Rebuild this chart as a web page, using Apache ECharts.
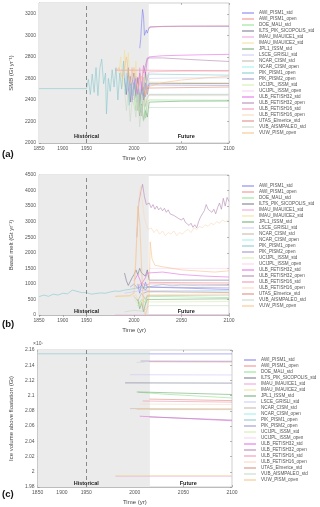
<!DOCTYPE html>
<html><head><meta charset="utf-8">
<script src="https://cdn.jsdelivr.net/npm/echarts@6/dist/echarts.min.js"></script>
<style>html,body{margin:0;padding:0;background:#fff}#c{width:320px;height:507px}</style>
</head><body><div id="c"></div>
<script>
const models = ['AWI_PISM1_std','AWI_PISM1_open','DOE_MALI_std','ILTS_PIK_SICOPOLIS_std','IMAU_IMAUICE1_std','IMAU_IMAUICE2_std','JPL1_ISSM_std','LSCE_GRISLI_std','NCAR_CISM_std','NCAR_CISM_open','PIK_PISM1_open','PIK_PISM2_open','UCIJPL_ISSM_std','UCIJPL_ISSM_open','ULB_FETISH32_std','ULB_FETISH32_open','ULB_FETISH16_std','ULB_FETISH16_open','UTAS_Elmerice_std','VUB_AISMPALEO_std','VUW_PISM_open'];
const colors = ['#7b7bef','#f08a8a','#8ee08e','#75758f','#f0a0dc','#f0e09a','#6fa86f','#c8c8f5','#c4b5a8','#a0eeea','#86c8cc','#9a8fc8','#d2eca8','#f8d0f0','#e46ae4','#b385b3','#f090b0','#f9d8bc','#d88a7a','#c6d8c6','#f7c088'];

const xTickYears = [1850,1900,1950,2000,2050,2100];
const historicalEnd = 2015.5;
const splitYear = 1950;

// Panel (a): SMB (Gt/yr), [year, value] per model
const smbPoints = [
 [[2006,2880],[2007,2960],[2008,3120],[2009,3240],[2010,3180],[2011,3000],[2012,2990],[2013,3050],[2014,3020],[2016,3075],[2030,3083],[2050,3085],[2075,3084],[2100,3083]],
 [[2015,3050],[2017,3080],[2050,3083],[2075,3086],[2100,3088]],
 [[2000,2450],[2002,2300],[2004,2520],[2006,2340],[2008,2280],[2010,2460],[2012,2230],[2014,2380],[2016,2400],[2050,2398],[2100,2397]],
 [[1990,2600],[1992,2450],[1994,2700],[1996,2380],[1998,2560],[2000,2650],[2002,2420],[2004,2610],[2006,2300],[2008,2560],[2010,2440],[2012,2660],[2014,2500],[2016,2555],[2050,2553],[2100,2552]],
 [[1996,2550],[1998,2700],[2000,2480],[2002,2620],[2004,2400],[2006,2700],[2008,2500],[2010,2610],[2012,2450],[2014,2620],[2016,2660],[2050,2670],[2100,2672]],
 [[1984,2650],[1986,2800],[1988,2520],[1990,2860],[1992,2600],[1994,2840],[1996,2480],[1998,2700],[2000,2520],[2002,2760],[2004,2450],[2006,2650],[2008,2530],[2010,2700],[2012,2480],[2014,2600],[2016,2565],[2050,2562],[2100,2560]],
 [[2004,2400],[2006,2250],[2008,2360],[2010,2210],[2012,2300],[2014,2240],[2016,2380],[2050,2388],[2100,2390]],
 [[1990,2550],[1992,2650],[1994,2420],[1996,2580],[1998,2470],[2000,2600],[2002,2380],[2004,2520],[2006,2420],[2008,2570],[2010,2350],[2012,2520],[2014,2480],[2016,2600],[2050,2604],[2100,2605]],
 [[2000,2400],[2002,2550],[2004,2300],[2006,2460],[2008,2250],[2010,2500],[2012,2340],[2014,2420],[2016,2450],[2050,2450],[2100,2450]],
 [[2016,2453],[2050,2453],[2100,2453]],
 [[1850,2505],[1950,2505],[1952,2590],[1954,2450],[1956,2640],[1958,2470],[1960,2700],[1962,2440],[1964,2690],[1966,2780],[1968,2550],[1970,2650],[1971,2270],[1973,2600],[1975,2480],[1977,2680],[1979,2520],[1981,2700],[1983,2400],[1985,2650],[1987,2500],[1989,2760],[1991,2450],[1993,2620],[1995,2350],[1997,2560],[1999,2440],[2001,2600],[2003,2380],[2005,2550],[2007,2300],[2009,2600],[2011,2420],[2013,2560],[2016,2640],[2050,2636],[2100,2630]],
 [[1994,2480],[1996,2620],[1998,2380],[2000,2560],[2002,2440],[2004,2600],[2006,2350],[2008,2500],[2010,2400],[2012,2560],[2014,2450],[2016,2540],[2050,2537],[2100,2535]],
 [[2000,2500],[2002,2350],[2004,2550],[2006,2300],[2008,2450],[2010,2340],[2012,2400],[2014,2420],[2016,2440],[2100,2440]],
 [[2016,2446],[2100,2446]],
 [[2000,2550],[2002,2600],[2004,2450],[2006,2650],[2008,2500],[2010,2720],[2012,2640],[2014,2770],[2016,2800],[2030,2810],[2050,2815],[2075,2820],[2100,2823]],
 [[2010,2650],[2012,2720],[2014,2790],[2016,2805],[2030,2790],[2050,2780],[2075,2768],[2100,2757]],
 [[1980,2676],[2015,2676],[2016,2670],[2100,2670]],
 [[2016,2664],[2100,2664]],
 [[2008,2480],[2010,2520],[2012,2430],[2014,2510],[2016,2520],[2100,2520]],
 [[1990,2500],[1992,2300],[1994,2460],[1996,2200],[1998,2400],[2000,2350],[2002,2240],[2004,2450],[2006,2150],[2008,2350],[2010,2200],[2012,2310],[2014,2280],[2016,2330],[2100,2330]],
 [[1980,2650],[1984,2700],[1988,2600],[1992,2800],[1996,2550],[2000,2700],[2004,2500],[2008,2620],[2012,2450],[2014,2520],[2016,2530],[2030,2560],[2050,2585],[2075,2605],[2100,2620]]
];

// Panel (b): basal melt (Gt/yr)
const meltPoints = [
 [[2004,1000],[2006,700],[2008,1000],[2010,850],[2012,1050],[2014,900],[2016,860],[2100,820]],
 [[2016,1050],[2050,1040],[2100,1030]],
 [[2004,300],[2008,500],[2012,400],[2014,600],[2016,560],[2100,560]],
 [[1990,1350],[1992,1100],[1994,950],[1996,1000],[1998,1200],[2000,1300],[2002,1450],[2004,1300],[2006,1500],[2008,1350],[2010,1400],[2012,1250],[2014,1450],[2016,1120],[2050,1120],[2100,1120]],
 [[1980,0],[2100,0]],
 [[1980,600],[1998,610],[2002,650],[2006,300],[2010,500],[2014,650],[2016,680],[2100,680]],
 [[2004,500],[2006,200],[2008,400],[2010,100],[2012,350],[2014,500],[2016,520],[2100,520]],
 [[1990,700],[2000,750],[2010,800],[2014,780],[2016,790],[2100,790]],
 [[2000,600],[2004,450],[2008,700],[2012,500],[2014,620],[2016,640],[2100,640]],
 [[2016,740],[2030,760],[2050,745],[2070,755],[2100,750]],
 [[1850,590],[1860,640],[1870,600],[1880,670],[1890,640],[1900,700],[1910,680],[1920,800],[1930,760],[1940,720],[1950,720],[1955,670],[1960,690],[1965,710],[1970,700],[1975,740],[1980,770],[1985,760],[1990,800],[1995,820],[2000,850],[2005,880],[2010,870],[2014,900],[2016,950],[2030,980],[2040,940],[2050,960],[2070,940],[2100,950]],
 [[1996,900],[2000,1000],[2004,850],[2008,950],[2012,800],[2014,900],[2016,880],[2100,870]],
 [[2000,500],[2006,300],[2010,450],[2014,420],[2016,430],[2100,430]],
 [[2016,1500],[2100,1500]],
 [[2000,1100],[2004,1300],[2008,1000],[2012,1200],[2014,1350],[2016,1400],[2030,1380],[2050,1300],[2075,1250],[2100,1220]],
 [[2003,2500],[2005,3600],[2007,3950],[2009,4200],[2011,3800],[2013,3550],[2016,3600],[2018,3450],[2020,3550],[2022,3400],[2024,3500],[2026,3380],[2028,3450],[2030,3350],[2032,3430],[2034,3300],[2036,3380],[2038,3250],[2040,3300],[2042,3200],[2044,3260],[2046,3120],[2048,3180],[2050,3050],[2052,3120],[2054,2980],[2056,3020],[2058,2880],[2060,2950],[2062,2820],[2064,2900],[2066,2800],[2068,3000],[2070,3150],[2072,3250],[2074,3350],[2076,3550],[2078,3400],[2080,3450],[2082,3300],[2084,3400],[2086,3250],[2088,3450],[2090,3600],[2092,3400],[2094,3750],[2096,3500],[2098,3780],[2100,3650]],
 [[2004,900],[2008,1050],[2012,950],[2016,1000],[2100,980]],
 [[2000,900],[2003,2500],[2005,3700],[2007,4150],[2009,3600],[2011,3100],[2013,2900],[2015,2750],[2018,2800],[2021,2650],[2024,2750],[2027,2600],[2030,2700],[2033,2550],[2036,2650],[2039,2600],[2042,2700],[2045,2550],[2048,2650],[2051,2600],[2054,2700],[2057,2750],[2060,2650],[2063,2800],[2066,2750],[2069,2850],[2072,2800],[2075,2900],[2078,2850],[2081,2950],[2084,2900],[2087,3000],[2090,2950],[2093,3050],[2096,3000],[2100,3050]],
 [[2010,700],[2014,750],[2016,720],[2100,720]],
 [[1990,100],[2000,150],[2010,120],[2016,300],[2100,300]],
 [[1980,600],[1995,620],[2000,700],[2002,1800],[2004,3500],[2006,3000],[2008,1500],[2010,300],[2012,0],[2014,200],[2016,600],[2017,2350],[2019,1800],[2022,1600],[2030,1550],[2040,1500],[2050,1450],[2060,1430],[2075,1400],[2085,1380],[2100,1420]]
];

// Panel (c): ice volume above floatation (x10^7 Gt)
const volPoints = [
 [[2015,2.1549],[2100,2.1549]],
 [[2015,2.1446],[2100,2.1443]],
 [[2004,2.1045],[2030,2.1020],[2100,2.0970]],
 [[1990,2.1168],[2100,2.1165]],
 [[1980,1.9942],[2100,1.9942]],
 [[1980,1.9950],[2100,1.9950]],
 [[2002,2.1048],[2015,2.1045],[2100,2.1015]],
 [[1995,2.1275],[2100,2.1272]],
 [[1995,2.0830],[2100,2.0825]],
 [[2015,2.0822],[2100,2.0822]],
 [[1850,2.1550],[2015,2.1550]],
 [[2006,2.1455],[2100,2.1452]],
 [[2015,2.0815],[2100,2.0815]],
 [[2015,2.0818],[2100,2.0818]],
 [[2005,2.0730],[2100,2.0670]],
 [[2015,2.0720],[2100,2.0680]],
 [[2008,2.0930],[2100,2.0915]],
 [[2005,2.0890],[2100,2.0885]],
 [[2015,2.0955],[2100,2.0935]],
 [[2002,2.1438],[2010,2.1440]],
 [[2002,2.0820],[2100,2.0820]]
];

const panelLetters = ['(a)','(b)','(c)'];
const yNames = ['SMB (Gt yr⁻¹)','Basal melt (Gt yr⁻¹)','Ice volume above floatation (Gt)'];
const yMin = [2000, 0, 1.98];
const yMax = [3300, 4500, 2.16];
const yTicks = [
 [2000,2200,2400,2600,2800,3000,3200],
 [0,500,1000,1500,2000,2500,3000,3500,4000,4500],
 [1.98,2,2.02,2.04,2.06,2.08,2.1,2.12,2.14,2.16]
];
const futureLabelYear = 2055;

// ---- build ----
const tx = y => y < splitYear ? splitYear - (splitYear - y) / 2 : y;
const untx = v => v < splitYear ? splitYear - (splitYear - v) * 2 : v;
const xTickPos = xTickYears.map(tx);

const grids = [
 {left: 29, top: 3, width: 200, height: 140},
 {left: 29, top: 175, width: 200, height: 140},
 {left: 33, top: 350, width: 199, height: 137}
];
const legendPos = [{left: 242, top: 10},{left: 242, top: 183},{left: 244, top: 357}];
const letterTop = [149, 319, 489];
const markDist = [4, 1, 1];

const grid = [], xAxis = [], yAxis = [], series = [], legend = [];
const panels = [smbPoints, meltPoints, volPoints];
const FONT = 'Liberation Sans';

for (let p = 0; p < 3; p++) {
  grid.push(Object.assign({show: true, borderColor: '#b0b0b0', borderWidth: 0.6, backgroundColor: 'transparent'}, grids[p]));
  xAxis.push({
    type: 'value', gridIndex: p, min: tx(1850), max: 2100,
    axisLine: {show: true, lineStyle: {color: '#a0a0a0', width: 0.6}},
    axisTick: {show: true, inside: true, length: 2, customValues: xTickPos, lineStyle: {color: '#888', width: 0.6}},
    axisLabel: {show: true, customValues: xTickPos, formatter: v => String(Math.round(untx(v))), fontSize: 5, color: '#555', margin: 3, fontFamily: FONT},
    splitLine: {show: false},
    name: 'Time (yr)', nameLocation: 'middle', nameGap: 12,
    nameTextStyle: {fontSize: 6, color: '#444', fontFamily: FONT}
  });
  yAxis.push({
    type: 'value', gridIndex: p, min: yMin[p], max: yMax[p],
    axisLine: {show: true, lineStyle: {color: '#a0a0a0', width: 0.6}},
    axisTick: {show: true, inside: true, length: 2, customValues: yTicks[p], lineStyle: {color: '#888', width: 0.6}},
    axisLabel: {show: true, customValues: yTicks[p], formatter: v => String(+(+v).toFixed(2)), fontSize: 5, color: '#555', margin: 3, fontFamily: FONT},
    splitLine: {show: false},
    name: yNames[p], nameLocation: 'middle', nameGap: p === 2 ? 20 : 18, nameRotate: 90,
    nameTextStyle: {fontSize: 6, color: '#444', fontFamily: FONT}
  });
}
// top / right tick axes
for (let p = 0; p < 3; p++) {
  xAxis.push({type: 'value', gridIndex: p, position: 'top', min: tx(1850), max: 2100,
    axisLine: {show: false}, axisLabel: {show: false}, splitLine: {show: false},
    axisTick: {show: true, inside: true, length: 2, customValues: xTickPos, lineStyle: {color: '#888', width: 0.6}}});
  yAxis.push({type: 'value', gridIndex: p, position: 'right', min: yMin[p], max: yMax[p],
    axisLine: {show: false}, axisLabel: {show: false}, splitLine: {show: false},
    axisTick: {show: true, inside: true, length: 2, customValues: yTicks[p], lineStyle: {color: '#888', width: 0.6}}});
}

for (let p = 0; p < 3; p++) {
  series.push({
    type: 'line', name: '_helper' + p, xAxisIndex: p, yAxisIndex: p, z: 1,
    data: [[tx(1850), yMin[p]]], showSymbol: false, symbol: 'none', lineStyle: {opacity: 0}, silent: true,
    markArea: {silent: true, itemStyle: {color: '#ebebeb'}, data: [[{xAxis: tx(1850)}, {xAxis: historicalEnd}]]},
    markLine: {silent: true, symbol: 'none', label: {show: false}, lineStyle: {type: [4, 3], color: '#707070', width: 0.8}, data: [{xAxis: tx(1950)}]},
    markPoint: {silent: true, symbol: 'rect', symbolSize: 0,
      label: {show: true, position: 'top', distance: markDist[p], formatter: '{b}', fontSize: 5.5, fontWeight: 'bold', color: '#222', fontFamily: FONT},
      data: [{name: 'Historical', coord: [tx(1950), yMin[p]]}, {name: 'Future', coord: [futureLabelYear, yMin[p]]}]}
  });
  panels[p].forEach((pts, i) => {
    series.push({
      type: 'line', name: models[i], xAxisIndex: p, yAxisIndex: p, z: 2,
      data: pts.map(d => [tx(d[0]), d[1]]),
      showSymbol: false, symbol: 'none', silent: true,
      lineStyle: {width: 0.7, color: colors[i], opacity: 0.85},
      itemStyle: {color: colors[i]},
      emphasis: {disabled: true}
    });
  });
  legend.push(Object.assign({
    orient: 'vertical', data: models, selectedMode: false, padding: 0,
    icon: 'rect', itemWidth: 12, itemHeight: 1.2, itemGap: 0,
    itemStyle: {opacity: 0.85},
    textStyle: {fontSize: 4.6, color: '#555', lineHeight: 6, fontFamily: FONT}
  }, legendPos[p]));
}

const graphic = panelLetters.map((t, p) => ({
  type: 'text', left: 2, top: letterTop[p],
  style: {text: t, fontSize: 9.5, fontWeight: 'bold', fill: '#111', fontFamily: FONT}
}));
graphic.push({type: 'text', left: 33, top: 341, style: {text: '×10⁷', fontSize: 5, fill: '#555', fontFamily: FONT}});

const chart = echarts.init(document.getElementById('c'), null, {renderer: 'canvas'});
chart.setOption({animation: false, backgroundColor: '#fff', grid, xAxis, yAxis, series, legend, graphic});
</script></body></html>
